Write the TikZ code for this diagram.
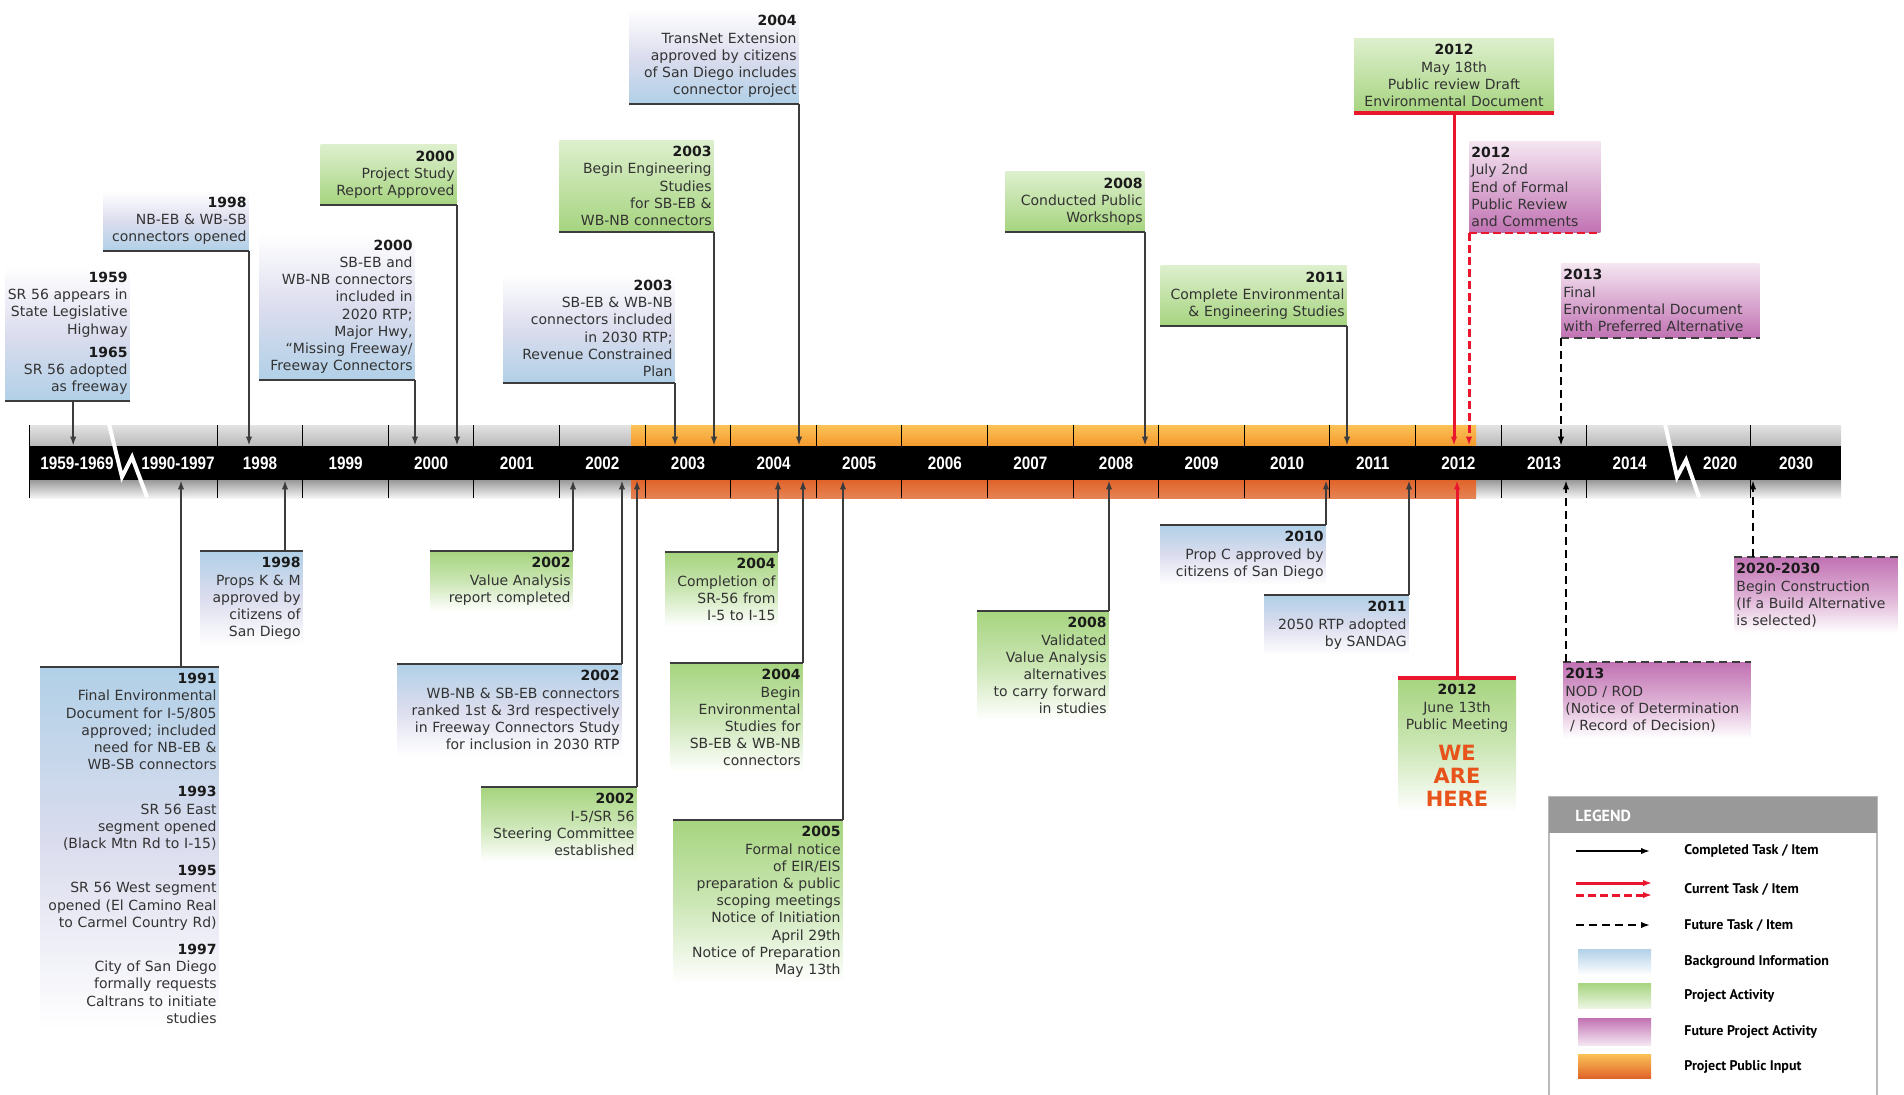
\documentclass[tikz,border=0pt]{standalone}
\usepackage{fontspec}
\setmainfont{DejaVu Sans}
\newfontfamily\barfont{Liberation Sans}[FakeStretch=0.85]
\newfontfamily\legfont{PT Sans}
\usetikzlibrary{arrows.meta}

\definecolor{blueedge}{HTML}{B1D0E7}
\definecolor{bluemid}{HTML}{DCDDEE}
\definecolor{greenedge}{HTML}{A6D47F}
\definecolor{greenmid}{HTML}{CBE6B4}
\definecolor{greenfar}{HTML}{DDEFCD}
\definecolor{purpleedge}{HTML}{C172B3}
\definecolor{purplemid}{HTML}{DDAFD4}
\definecolor{purplefar}{HTML}{F4E6F1}
\definecolor{linegrey}{HTML}{3C3C3C}
\definecolor{txtgrey}{HTML}{333333}
\definecolor{yearblack}{HTML}{1A1A1A}
\definecolor{curred}{HTML}{E9162E}
\definecolor{herered}{HTML}{E8531B}
\definecolor{orangetop}{HTML}{FBC258}
\definecolor{orangemid}{HTML}{F49A2E}
\definecolor{orangelow}{HTML}{E0642A}
\definecolor{legendhead}{HTML}{999999}

\newcommand{\evfont}{\fontsize{7}{8.6}\selectfont}
\newcommand{\evyear}[1]{\textbf{\color{yearblack}#1}}
\newcommand{\herefont}{\fontsize{10.5}{11.5}\selectfont\bfseries\color{herered}}

\tikzset{
  evbox/.style={inner xsep=1pt, inner ysep=3pt, font=\evfont, text=txtgrey},
  bgup/.style={evbox, align=right, top color=white, bottom color=blueedge, middle color=bluemid},
  bgdown/.style={evbox, align=right, top color=blueedge, bottom color=white, middle color=bluemid},
  actup/.style={evbox, align=right, top color=greenfar, bottom color=greenedge},
  actdown/.style={evbox, align=right, top color=greenedge, bottom color=white, middle color=greenmid},
  futup/.style={evbox, align=left, top color=purplefar, bottom color=purpleedge},
  futdown/.style={evbox, align=left, top color=purpleedge, bottom color=white, middle color=purplemid},
  rim/.style={draw=linegrey, line width=1.4pt},
  rimnow/.style={draw=curred, line width=1.6pt},
  rimnowdash/.style={rimnow, line width=1.3pt, dash pattern=on 4pt off 2pt},
  rimtodo/.style={draw=linegrey, line width=1.2pt, dash pattern=on 4pt off 2.5pt},
  done/.style={draw=linegrey, line width=0.8pt, ->},
  now/.style={draw=curred, line width=1.5pt, ->},
  nowdash/.style={now, dash pattern=on 4pt off 2pt},
  todo/.style={draw=black, line width=0.8pt, dash pattern=on 4pt off 2.5pt, ->},
  yeartick/.style={draw=black, line width=0.5pt},
  yearlbl/.style={text=white, font=\barfont\bfseries\fontsize{9}{10}\selectfont, inner sep=0pt},
  bolt/.style={draw=white, line width=2pt},
  legtext/.style={anchor=west, font=\legfont\bfseries\fontsize{7}{8}\selectfont, inner sep=0pt},
}

\begin{document}
\begin{tikzpicture}[x=0.5pt, y=-0.5pt, >={Latex[length=4.5pt,width=3.2pt]}]
\useasboundingbox (0,0) rectangle (1904,1094);

% timeline bar
\shade[top color=gray!22, bottom color=gray!55] (29,425) rectangle (1841,446);
\shade[top color=gray!80, bottom color=gray!8] (29,480) rectangle (1841,498);
\shade[top color=orangetop, bottom color=orangemid] (631,425) rectangle (1476,446);
\shade[top color=orangelow, bottom color=orangelow!80!white] (631,480) rectangle (1476,498);
\draw[yeartick] (29,425) -- (29,498);
\foreach \i in {0,...,16}
  \draw[yeartick] ({217+85.6*\i},425) -- ({217+85.6*\i},498);
\draw[yeartick] (1750,425) -- (1750,498);
\node (bar) [fill=black, minimum width=906pt, minimum height=17pt, inner sep=0pt] at (935,463) {};
\foreach \yr [count=\i from 0] in {1998,...,2014}
  \node (y\yr) [yearlbl] at ({260+85.6*\i},463) {\yr};
\node (y1959) [yearlbl] at (77,463) {1959-1969};
\node (y1990) [yearlbl] at (178,463) {1990-1997};
\node (y2020) [yearlbl] at (1720,463) {2020};
\node (y2030) [yearlbl] at (1796,463) {2030};
\draw[bolt] (109,424) -- (122,477) -- (132,457) -- (147,497);
\draw[bolt] (1665,424) -- (1677,477) -- (1686,460) -- (1699,497);

% events above the bar
\node (e1959) [bgup, text width=60pt, anchor=south east] at (130,401) {\evyear{1959}\\SR 56 appears in\\State Legislative\\Highway\\[3pt]\evyear{1965}\\SR 56 adopted\\as freeway};
\node (e1998a) [bgup, text width=70.5pt, anchor=south east] at (249,251) {\evyear{1998}\\NB-EB \& WB-SB\\connectors opened};
\node (e2000a) [bgup, text width=75.5pt, anchor=south east] at (415,380) {\evyear{2000}\\SB-EB and\\WB-NB connectors\\included in\\2020 RTP;\\Major Hwy,\\“Missing Freeway/\\Freeway Connectors};
\node (e2000b) [actup, text width=66pt, anchor=south east] at (457,205) {\evyear{2000}\\Project Study\\Report Approved};
\node (e2003a) [bgup, text width=83.5pt, anchor=south east] at (675,383) {\evyear{2003}\\SB-EB \& WB-NB\\connectors included\\in 2030 RTP;\\Revenue Constrained\\Plan};
\node (e2003b) [actup, text width=75pt, anchor=south east] at (714,232) {\evyear{2003}\\Begin Engineering\\Studies\\for SB-EB \&\\WB-NB connectors};
\node (e2004a) [bgup, text width=82.5pt, anchor=south east] at (799,104) {\evyear{2004}\\TransNet Extension\\approved by citizens\\of San Diego includes\\connector project};
\node (e2008a) [actup, text width=67.5pt, anchor=south east] at (1145,232) {\evyear{2008}\\Conducted Public\\Workshops};
\node (e2011a) [actup, text width=91pt, anchor=south east] at (1347,326) {\evyear{2011}\\Complete Environmental\\\& Engineering Studies};
\node (e2012a) [actup, align=center, text width=98pt, anchor=south] at (1454,113) {\evyear{2012}\\May 18th\\Public review Draft\\Environmental Document};
\node (e2012b) [futup, text width=63.5pt, anchor=south west] at (1469,233) {\evyear{2012}\\July 2nd\\End of Formal\\Public Review\\and Comments};
\node (e2013a) [futup, text width=97pt, anchor=south west] at (1561,338) {\evyear{2013}\\Final\\Environmental Document\\with Preferred Alternative};

\draw[rim] (e1959.south west) -- (e1959.south east);
\draw[done] ([xshift=34pt]e1959.south west) coordinate (c1959) -- (c1959 |- bar.north);
\draw[rim] (e1998a.south west) -- (e1998a.south east);
\draw[done] (e1998a.south east) -- (e1998a.south east |- bar.north);
\draw[rim] (e2000a.south west) -- (e2000a.south east);
\draw[done] (e2000a.south east) -- (e2000a.south east |- bar.north);
\draw[rim] (e2000b.south west) -- (e2000b.south east);
\draw[done] (e2000b.south east) -- (e2000b.south east |- bar.north);
\draw[rim] (e2003a.south west) -- (e2003a.south east);
\draw[done] (e2003a.south east) -- (e2003a.south east |- bar.north);
\draw[rim] (e2003b.south west) -- (e2003b.south east);
\draw[done] (e2003b.south east) -- (e2003b.south east |- bar.north);
\draw[rim] (e2004a.south west) -- (e2004a.south east);
\draw[done] (e2004a.south east) -- (e2004a.south east |- bar.north);
\draw[rim] (e2008a.south west) -- (e2008a.south east);
\draw[done] (e2008a.south east) -- (e2008a.south east |- bar.north);
\draw[rim] (e2011a.south west) -- (e2011a.south east);
\draw[done] (e2011a.south east) -- (e2011a.south east |- bar.north);
\draw[rimnow] (e2012a.south west) -- (e2012a.south east);
\draw[now] (e2012a.south) -- (e2012a.south |- bar.north);
\draw[rimnowdash] (e2012b.south west) -- (e2012b.south east);
\draw[nowdash] (e2012b.south west) -- (e2012b.south west |- bar.north);
\draw[rimtodo] (e2013a.south west) -- (e2013a.south east);
\draw[todo] (e2013a.south west) -- (e2013a.south west |- bar.north);

% events below the bar
\node (e1998b) [bgdown, text width=49pt, anchor=north east] at (303,551) {\evyear{1998}\\Props K \& M\\approved by\\citizens of\\San Diego};
\node (e1991) [bgdown, text width=87pt, anchor=north east] at (219,667) {\evyear{1991}\\Final Environmental\\Document for I-5/805\\approved; included\\need for NB-EB \&\\WB-SB connectors\\[5pt]\evyear{1993}\\SR 56 East\\segment opened\\(Black Mtn Rd to I-15)\\[5pt]\evyear{1995}\\SR 56 West segment\\opened (El Camino Real\\to Carmel Country Rd)\\[5pt]\evyear{1997}\\City of San Diego\\formally requests\\Caltrans to initiate\\studies};
\node (e2002a) [actdown, text width=69pt, anchor=north east] at (573,551) {\evyear{2002}\\Value Analysis\\report completed};
\node (e2002b) [bgdown, text width=110pt, anchor=north east] at (622,664) {\evyear{2002}\\WB-NB \& SB-EB connectors\\ranked 1st \& 3rd respectively\\in Freeway Connectors Study\\for inclusion in 2030 RTP};
\node (e2002c) [actdown, text width=75.5pt, anchor=north east] at (637,787) {\evyear{2002}\\I-5/SR 56\\Steering Committee\\established};
\node (e2004b) [actdown, text width=54pt, anchor=north east] at (778,552) {\evyear{2004}\\Completion of\\SR-56 from\\I-5 to I-15};
\node (e2004c) [actdown, text width=64pt, anchor=north east] at (803,663) {\evyear{2004}\\Begin\\Environmental\\Studies for\\SB-EB \& WB-NB\\connectors};
\node (e2005) [actdown, text width=82.5pt, anchor=north east] at (843,820) {\evyear{2005}\\Formal notice\\of EIR/EIS\\preparation \& public\\scoping meetings\\Notice of Initiation\\April 29th\\Notice of Preparation\\May 13th};
\node (e2008b) [actdown, text width=63.5pt, anchor=north east] at (1109,611) {\evyear{2008}\\Validated\\Value Analysis\\alternatives\\to carry forward\\in studies};
\node (e2010) [bgdown, text width=80.5pt, anchor=north east] at (1326,525) {\evyear{2010}\\Prop C approved by\\citizens of San Diego};
\node (e2011b) [bgdown, text width=70pt, anchor=north east] at (1409,595) {\evyear{2011}\\2050 RTP adopted\\by SANDAG};
\node (e2012c) [actdown, align=center, text width=57pt, anchor=north] at (1457,678) {\evyear{2012}\\June 13th\\Public Meeting\\[4pt]{\herefont WE\\ARE\\HERE\par}};
\node (e2013b) [futdown, text width=91.5pt, anchor=north west] at (1563,662) {\evyear{2013}\\NOD / ROD\\(Notice of Determination\\\ / Record of Decision)};
\node (e2020) [futdown, text width=79.5pt, anchor=north west] at (1734,557) {\evyear{2020-2030}\\Begin Construction\\(If a Build Alternative\\is selected)};

\draw[rim] (e1998b.north west) -- (e1998b.north east);
\draw[done] ([xshift=-9pt]e1998b.north east) coordinate (c1998) -- (c1998 |- bar.south);
\draw[rim] (e1991.north west) -- (e1991.north east);
\draw[done] ([xshift=-19pt]e1991.north east) coordinate (c1991) -- (c1991 |- bar.south);
\draw[rim] (e2002a.north west) -- (e2002a.north east);
\draw[done] (e2002a.north east) -- (e2002a.north east |- bar.south);
\draw[rim] (e2002b.north west) -- (e2002b.north east);
\draw[done] (e2002b.north east) -- (e2002b.north east |- bar.south);
\draw[rim] (e2002c.north west) -- (e2002c.north east);
\draw[done] (e2002c.north east) -- (e2002c.north east |- bar.south);
\draw[rim] (e2004b.north west) -- (e2004b.north east);
\draw[done] (e2004b.north east) -- (e2004b.north east |- bar.south);
\draw[rim] (e2004c.north west) -- (e2004c.north east);
\draw[done] (e2004c.north east) -- (e2004c.north east |- bar.south);
\draw[rim] (e2005.north west) -- (e2005.north east);
\draw[done] (e2005.north east) -- (e2005.north east |- bar.south);
\draw[rim] (e2008b.north west) -- (e2008b.north east);
\draw[done] (e2008b.north east) -- (e2008b.north east |- bar.south);
\draw[rim] (e2010.north west) -- (e2010.north east);
\draw[done] (e2010.north east) -- (e2010.north east |- bar.south);
\draw[rim] (e2011b.north west) -- (e2011b.north east);
\draw[done] (e2011b.north east) -- (e2011b.north east |- bar.south);
\draw[rimnow] (e2012c.north west) -- (e2012c.north east);
\draw[now] (e2012c.north) -- (e2012c.north |- bar.south);
\draw[rimtodo] (e2013b.north west) -- (e2013b.north east);
\draw[todo] ([xshift=1.5pt]e2013b.north west) coordinate (c2013) -- (c2013 |- bar.south);
\draw[rimtodo] (e2020.north west) -- (e2020.north east);
\draw[todo] ([xshift=9.5pt]e2020.north west) coordinate (c2020) -- (c2020 |- bar.south);

% legend
\draw[draw=gray!55, line width=1pt, fill=white] (1549,797) rectangle (1877,1110);
\fill[legendhead] (1549,797) rectangle (1877,833);
\node (leghead) [anchor=west, inner sep=0pt, text=white, font=\legfont\bfseries\fontsize{8}{9}\selectfont] at (1575,816) {LEGEND};
\draw[done, draw=black] (1576,851) -- (1650,851);
\draw[now] (1576,883) -- (1652,883);
\draw[nowdash] (1576,895) -- (1652,895);
\draw[todo] (1576,925) -- (1650,925);
\shade[top color=blueedge, bottom color=white] (1578,949) rectangle (1651,975);
\shade[top color=greenedge, bottom color=greenfar!60!white] (1578,983) rectangle (1651,1008);
\shade[top color=purpleedge, bottom color=purplefar] (1578,1018) rectangle (1651,1045);
\shade[top color=orangetop, middle color=orangemid, bottom color=orangelow] (1578,1054) rectangle (1651,1078);
\node (lgdone) [legtext] at (1684,851) {Completed Task / Item};
\node (lgnow) [legtext] at (1684,889) {Current Task / Item};
\node (lgtodo) [legtext] at (1684,925) {Future Task / Item};
\node (lgbg) [legtext] at (1684,962) {Background Information};
\node (lgact) [legtext] at (1684,996) {Project Activity};
\node (lgfut) [legtext] at (1684,1032) {Future Project Activity};
\node (lgpub) [legtext] at (1684,1067) {Project Public Input};
\end{tikzpicture}
\end{document}
